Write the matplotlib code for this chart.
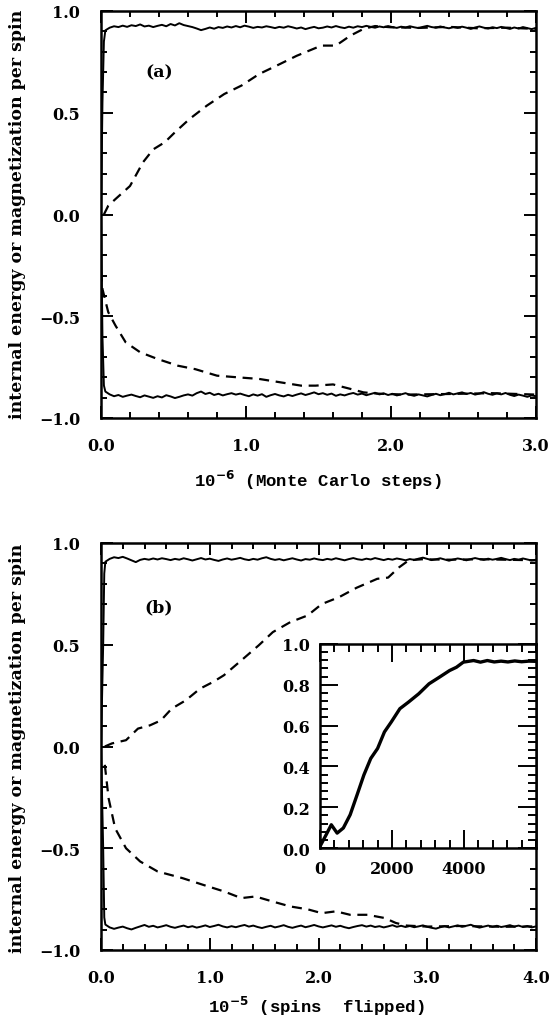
import numpy as np
import matplotlib.pyplot as plt
from matplotlib.ticker import MultipleLocator, FuncFormatter

# -----------------------------
# Data
# -----------------------------

# panel (a): Monte Carlo steps (units of 1e6)
a_start_x = [0.0, 0.01, 0.02]
a_upper_start = [0.0, 0.55, 0.85]
a_lower_start = [0.0, -0.60, -0.84]
a_grid = np.linspace(0.03, 3.0, 100)

a_upper = [
    0.905, 0.918, 0.925, 0.921, 0.928, 0.922, 0.930, 0.926, 0.934, 0.924,
    0.928, 0.921, 0.927, 0.932, 0.925, 0.936, 0.929, 0.940, 0.931, 0.926,
    0.921, 0.914, 0.906, 0.912, 0.919, 0.913, 0.921, 0.917, 0.924, 0.919,
    0.926, 0.920, 0.928, 0.923, 0.917, 0.922, 0.919, 0.925, 0.921, 0.916,
    0.922, 0.918, 0.925, 0.920, 0.914, 0.919, 0.911, 0.917, 0.922, 0.915,
    0.918, 0.924, 0.919, 0.926, 0.920, 0.916, 0.923, 0.918, 0.925, 0.921,
    0.927, 0.922, 0.918, 0.924, 0.920, 0.926, 0.921, 0.917, 0.923, 0.919,
    0.925, 0.920, 0.916, 0.922, 0.927, 0.921, 0.918, 0.924, 0.919, 0.915,
    0.921, 0.917, 0.923, 0.918, 0.912, 0.919, 0.924, 0.918, 0.914, 0.920,
    0.916, 0.922, 0.917, 0.912, 0.919, 0.914, 0.921, 0.916, 0.911, 0.917,
]

a_lower = [
    -0.870, -0.884, -0.893, -0.887, -0.896, -0.890, -0.885, -0.892, -0.898, -0.889,
    -0.895, -0.901, -0.893, -0.899, -0.888, -0.894, -0.902, -0.896, -0.889, -0.884,
    -0.890, -0.878, -0.870, -0.882, -0.876, -0.887, -0.881, -0.889, -0.883, -0.878,
    -0.885, -0.880, -0.887, -0.893, -0.884, -0.890, -0.883, -0.896, -0.888, -0.882,
    -0.889, -0.894, -0.886, -0.892, -0.885, -0.879, -0.887, -0.881, -0.874, -0.883,
    -0.878, -0.886, -0.880, -0.891, -0.884, -0.889, -0.882, -0.877, -0.885, -0.880,
    -0.888, -0.882, -0.876, -0.884, -0.879, -0.887, -0.881, -0.889, -0.884, -0.878,
    -0.886, -0.891, -0.884, -0.889, -0.894, -0.887, -0.881, -0.888, -0.883, -0.876,
    -0.884, -0.879, -0.874, -0.882, -0.877, -0.885, -0.880, -0.873, -0.881, -0.886,
    -0.879, -0.884, -0.877, -0.886, -0.892, -0.885, -0.890, -0.896, -0.889, -0.893,
]

a_dash_up_x = [0.02, 0.05, 0.10, 0.20, 0.29, 0.36, 0.44, 0.51, 0.61, 0.73, 0.85,
               0.97, 1.09, 1.21, 1.35, 1.52, 1.62, 1.72, 1.81, 1.89, 2.0, 2.2,
               2.4, 2.6, 2.8, 3.0]
a_dash_up_y = [0.0, 0.043, 0.076, 0.14, 0.257, 0.32, 0.355, 0.404, 0.469, 0.535,
               0.592, 0.634, 0.69, 0.731, 0.78, 0.83, 0.83, 0.879, 0.912, 0.926,
               0.92, 0.917, 0.922, 0.915, 0.918, 0.912]

a_dash_lo_x = [0.0, 0.01, 0.05, 0.10, 0.17, 0.27, 0.39, 0.53, 0.65, 0.80, 0.94,
               1.09, 1.24, 1.38, 1.48, 1.60, 1.72, 1.81, 1.9, 2.1, 2.4, 2.7, 3.0]
a_dash_lo_y = [-0.28, -0.366, -0.48, -0.546, -0.628, -0.677, -0.71, -0.743, -0.76,
               -0.792, -0.80, -0.808, -0.825, -0.841, -0.841, -0.835, -0.857,
               -0.874, -0.88, -0.885, -0.882, -0.878, -0.885]

# panel (b): spins flipped (units of 1e5)
b_start_x = [0.0, 0.02, 0.03]
b_upper_start = [0.0, 0.5, 0.85]
b_lower_start = [0.0, -0.5, -0.84]
b_grid = np.linspace(0.04, 4.0, 100)

b_upper = [
    0.908, 0.922, 0.930, 0.926, 0.932, 0.924, 0.915, 0.906, 0.917, 0.922,
    0.918, 0.924, 0.919, 0.925, 0.921, 0.916, 0.922, 0.918, 0.925, 0.920,
    0.914, 0.920, 0.926, 0.919, 0.923, 0.917, 0.912, 0.919, 0.924, 0.918,
    0.922, 0.927, 0.920, 0.916, 0.922, 0.918, 0.925, 0.930, 0.922, 0.917,
    0.921, 0.915, 0.920, 0.925, 0.919, 0.914, 0.921, 0.918, 0.924, 0.919,
    0.916, 0.922, 0.918, 0.925, 0.920, 0.915, 0.921, 0.926, 0.920, 0.917,
    0.923, 0.919, 0.926, 0.921, 0.916, 0.922, 0.918, 0.924, 0.920, 0.915,
    0.921, 0.917, 0.923, 0.928, 0.922, 0.916, 0.920, 0.925, 0.919, 0.913,
    0.919, 0.924, 0.920, 0.915, 0.921, 0.926, 0.921, 0.917, 0.923, 0.918,
    0.922, 0.927, 0.921, 0.916, 0.922, 0.918, 0.924, 0.919, 0.914, 0.918,
]

b_lower = [
    -0.875, -0.889, -0.896, -0.890, -0.885, -0.893, -0.899, -0.891, -0.884, -0.877,
    -0.886, -0.881, -0.889, -0.884, -0.878, -0.886, -0.891, -0.885, -0.880, -0.888,
    -0.883, -0.890, -0.885, -0.879, -0.887, -0.882, -0.876, -0.884, -0.889, -0.883,
    -0.888, -0.882, -0.877, -0.885, -0.880, -0.887, -0.892, -0.886, -0.881, -0.889,
    -0.884, -0.878, -0.886, -0.891, -0.885, -0.880, -0.888, -0.883, -0.877, -0.884,
    -0.889, -0.884, -0.879, -0.886, -0.881, -0.888, -0.893, -0.887, -0.882, -0.878,
    -0.885, -0.880, -0.887, -0.883, -0.889, -0.884, -0.878, -0.886, -0.881, -0.887,
    -0.882, -0.888, -0.884, -0.879, -0.886, -0.891, -0.895, -0.888, -0.883, -0.889,
    -0.884, -0.879, -0.886, -0.881, -0.876, -0.884, -0.890, -0.885, -0.880, -0.886,
    -0.881, -0.887, -0.883, -0.878, -0.885, -0.880, -0.887, -0.882, -0.889, -0.884,
]

b_dash_up_x = [0.035, 0.10, 0.23, 0.34, 0.45, 0.55, 0.65, 0.78, 0.91, 1.03, 1.13,
               1.29, 1.45, 1.58, 1.74, 1.90, 2.03, 2.19, 2.35, 2.54, 2.64, 2.74,
               2.83, 2.95, 3.2, 3.5, 3.8, 4.0]
b_dash_up_y = [0.0, 0.015, 0.031, 0.088, 0.104, 0.128, 0.186, 0.227, 0.284, 0.317,
               0.35, 0.423, 0.497, 0.562, 0.611, 0.644, 0.70, 0.734, 0.78, 0.824,
               0.83, 0.88, 0.915, 0.92, 0.918, 0.92, 0.917, 0.915]

b_dash_lo_x = [0.035, 0.07, 0.13, 0.23, 0.36, 0.52, 0.75, 0.94, 1.13, 1.29, 1.42,
               1.58, 1.74, 1.90, 2.03, 2.16, 2.29, 2.45, 2.61, 2.71, 2.81, 3.0,
               3.3, 3.7, 4.0]
b_dash_lo_y = [-0.09, -0.255, -0.402, -0.50, -0.565, -0.614, -0.647, -0.68, -0.712,
               -0.745, -0.737, -0.762, -0.786, -0.80, -0.819, -0.81, -0.827,
               -0.827, -0.843, -0.867, -0.88, -0.885, -0.882, -0.886, -0.884]

# inset: magnetization vs spins flipped
inset_x = [0, 171, 314, 476, 648, 838, 1029, 1219, 1410, 1600, 1790, 1981, 2219,
           2457, 2743, 3029, 3314, 3600, 3790, 3981, 4267, 4457, 4648, 4840,
           5030, 5220, 5410, 5600, 5800, 6000]
inset_y = [0.008, 0.065, 0.114, 0.073, 0.098, 0.163, 0.26, 0.358, 0.439, 0.488,
           0.569, 0.618, 0.683, 0.715, 0.756, 0.805, 0.837, 0.87, 0.886, 0.911,
           0.919, 0.911, 0.919, 0.912, 0.916, 0.912, 0.917, 0.913, 0.916, 0.915]

# -----------------------------
# Style
# -----------------------------

plt.rcParams["font.family"] = "DejaVu Serif"
plt.rcParams["font.weight"] = "bold"
plt.rcParams["mathtext.default"] = "bf"

W, H = 549, 1020
fig = plt.figure(figsize=(W / 100, H / 100), dpi=100)

one_dec = FuncFormatter(lambda v, p: f"{v:.1f}".replace("-", "\u2212"))


def frac(left, top, right, bottom):
    return [left / W, 1 - bottom / H, (right - left) / W, (bottom - top) / H]


def style_axes(ax, big=8.5, small=4.3, xpad=14, ypad=15, size=11.5):
    for sp in ax.spines.values():
        sp.set_linewidth(1.8)
    ax.tick_params(which="both", direction="in", top=True, right=True,
                   width=1.4, labelsize=size)
    ax.tick_params(axis="x", pad=xpad)
    ax.tick_params(axis="y", pad=ypad)
    ax.tick_params(which="major", length=big)
    ax.tick_params(which="minor", length=small)
    for lab in ax.get_xticklabels() + ax.get_yticklabels():
        lab.set_fontweight("bold")


dash = (0, (4.5, 3))
line_kw = dict(color="black", lw=1.4)
dash_kw = dict(color="black", lw=1.6, ls=dash)

# -----------------------------
# Panel (a)
# -----------------------------

ax1 = fig.add_axes(frac(101, 12, 536, 419))
ax1.plot(a_start_x + list(a_grid), a_upper_start + a_upper, **line_kw)
ax1.plot(a_start_x + list(a_grid), a_lower_start + a_lower, **line_kw)
ax1.plot(a_dash_up_x, a_dash_up_y, **dash_kw)
ax1.plot(a_dash_lo_x, a_dash_lo_y, **dash_kw)
ax1.set_xlim(0, 3.0)
ax1.set_ylim(-1.0, 1.0)
ax1.xaxis.set_major_locator(MultipleLocator(1.0))
ax1.xaxis.set_minor_locator(MultipleLocator(0.2))
ax1.yaxis.set_major_locator(MultipleLocator(0.5))
ax1.yaxis.set_minor_locator(MultipleLocator(0.1))
ax1.xaxis.set_major_formatter(one_dec)
ax1.yaxis.set_major_formatter(one_dec)
style_axes(ax1)
ax1.text(0.40, 0.70, "(a)", fontsize=12.5, fontweight="bold",
         ha="center", va="center")

# -----------------------------
# Panel (b)
# -----------------------------

ax2 = fig.add_axes(frac(101, 544, 536, 951))
ax2.plot(b_start_x + list(b_grid), b_upper_start + b_upper, **line_kw)
ax2.plot(b_start_x + list(b_grid), b_lower_start + b_lower, **line_kw)
ax2.plot(b_dash_up_x, b_dash_up_y, **dash_kw)
ax2.plot(b_dash_lo_x, b_dash_lo_y, **dash_kw)
ax2.set_xlim(0, 4.0)
ax2.set_ylim(-1.0, 1.0)
ax2.xaxis.set_major_locator(MultipleLocator(1.0))
ax2.xaxis.set_minor_locator(MultipleLocator(0.2))
ax2.yaxis.set_major_locator(MultipleLocator(0.5))
ax2.yaxis.set_minor_locator(MultipleLocator(0.1))
ax2.xaxis.set_major_formatter(one_dec)
ax2.yaxis.set_major_formatter(one_dec)
style_axes(ax2)
ax2.text(0.534, 0.685, "(b)", fontsize=12.5, fontweight="bold",
         ha="center", va="center")

# -----------------------------
# Inset
# -----------------------------

ax3 = fig.add_axes(frac(320, 645, 536, 849))
ax3.plot(inset_x, inset_y, color="black", lw=2.4)
ax3.set_xlim(0, 6000)
ax3.set_ylim(0, 1.0)
ax3.xaxis.set_major_locator(MultipleLocator(2000))
ax3.xaxis.set_minor_locator(MultipleLocator(400))
ax3.yaxis.set_major_locator(MultipleLocator(0.2))
ax3.yaxis.set_minor_locator(MultipleLocator(0.04))
ax3.yaxis.set_major_formatter(one_dec)
ax3.set_xticks([0, 2000, 4000])
style_axes(ax3, big=13, small=5.5, xpad=9, ypad=7)

# -----------------------------
# Axis labels
# -----------------------------

ylab = "internal energy or magnetization per spin"
fig.text(18 / W, 1 - 214 / H, ylab, rotation=90, ha="center", va="center",
         fontsize=12.5, fontweight="bold")
fig.text(18 / W, 1 - 748 / H, ylab, rotation=90, ha="center", va="center",
         fontsize=12.5, fontweight="bold")

fig.text(318 / W, 1 - 480 / H, r"10$^{-6}$ (Monte Carlo steps)",
         family="Liberation Mono", fontweight="bold", fontsize=12.5,
         ha="center", va="center")
fig.text(316 / W, 1 - 1006 / H, r"10$^{-5}$ (spins  flipped)",
         family="Liberation Mono", fontweight="bold", fontsize=12.5,
         ha="center", va="center")

fig.savefig("out.png", dpi=100)
